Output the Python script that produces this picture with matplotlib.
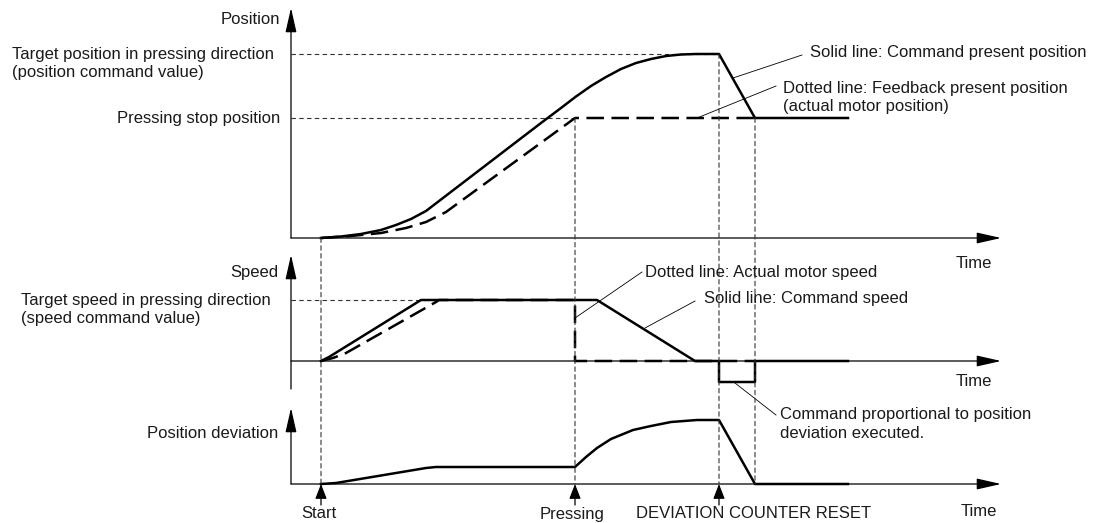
import matplotlib.pyplot as plt
from matplotlib.patches import ConnectionPatch

plt.rcParams['font.family'] = ['Liberation Sans', 'DejaVu Sans']

# Instants (time axis, arbitrary units from the axis origin)
t_start = 30
t_press = 284
t_reset = 428
t_end = 464
t_stop = 557
t_max = 710

# Position panel
pos_target = 184
pos_stop = 120
cmd_pos_t = [30, 50, 70, 90, 105, 120, 135, 250, 270, 285, 300, 315, 330, 345, 360, 375, 390, 405, 428, 464, 557]
cmd_pos_v = [0, 1.5, 4, 8, 13, 19, 27, 115, 130, 141.5, 152, 161, 169, 175, 179, 182, 183.5, 184, 184, 120, 120]
fb_pos_t = [30, 60, 90, 115, 135, 155, 284, 464]
fb_pos_v = [0, 2, 5, 10, 16, 26, 120, 120]

# Speed panel
spd_target = 61
spd_neg = -21
cmd_spd_t = [30, 38, 130, 306, 404, 428, 428, 464, 464, 557]
cmd_spd_v = [0, 4, 61, 61, 0, 0, -21, -21, 0, 0]
act_spd_t = [30, 42, 55, 138, 145, 148, 284, 284, 464]
act_spd_v = [0, 3, 8, 55, 59, 61, 61, 0, 0]

# Position deviation panel
dev_t = [30, 45, 135, 145, 284, 295, 306, 320, 342, 360, 380, 406, 428, 464, 557]
dev_v = [0, 1, 16, 17, 17, 27, 36, 45, 54, 58, 62, 64, 64, 0, 0]

W, H = 1108, 523
fig = plt.figure(figsize=(W / 100, H / 100), dpi=100)


def rect(ytop, ybot, x0=291, x1=1001):
    return [x0 / W, 1 - ybot / H, (x1 - x0) / W, (ybot - ytop) / H]


ax_pos = fig.add_axes(rect(8, 238))
ax_pos.set_ylim(0, 230)
ax_spd = fig.add_axes(rect(255, 389))
ax_spd.set_ylim(-28, 106)
ax_dev = fig.add_axes(rect(408, 484))
ax_dev.set_ylim(0, 76)
for ax in (ax_pos, ax_spd, ax_dev):
    ax.set_xlim(0, t_max)
    ax.axis('off')
    ax.patch.set_alpha(0)

thick = 1.8
thin_dash = dict(color='#333333', lw=0.8, dashes=(4, 3))
big_head = dict(arrowstyle='-|>,head_length=0.75,head_width=0.17', mutation_scale=20,
                color='black', lw=0.9, shrinkA=0, shrinkB=0)


def axis_arrow(ax, start, end):
    ax.annotate('', xy=end, xytext=start, arrowprops=big_head, annotation_clip=False)


# axes with arrows
axis_arrow(ax_pos, (0, 0), (0, 230))
axis_arrow(ax_pos, (0, 0), (t_max, 0))
axis_arrow(ax_spd, (0, -28), (0, 106))
axis_arrow(ax_spd, (0, 0), (t_max, 0))
axis_arrow(ax_dev, (0, 0), (0, 76))
axis_arrow(ax_dev, (0, 0), (t_max, 0))

# reference levels
ax_pos.plot([0, t_reset], [pos_target, pos_target], **thin_dash)
ax_pos.plot([0, t_press], [pos_stop, pos_stop], **thin_dash)
ax_spd.plot([0, 148], [spd_target, spd_target], **thin_dash)

# vertical guides across panels
guides = [(t_start, ax_pos, 0), (t_press, ax_pos, pos_stop),
          (t_reset, ax_pos, pos_target), (t_end, ax_pos, pos_stop)]
for t, ax_top, y_top in guides:
    con = ConnectionPatch(xyA=(t, y_top), coordsA=ax_top.transData,
                          xyB=(t, 0), coordsB=ax_dev.transData,
                          color='#333333', lw=0.8, linestyle=(0, (4, 3)))
    fig.add_artist(con)

# curves
ax_pos.plot(fb_pos_t, fb_pos_v, color='black', lw=thick, dashes=(7, 3), clip_on=False)
ax_pos.plot(cmd_pos_t, cmd_pos_v, color='black', lw=thick, clip_on=False)
ax_spd.plot(act_spd_t, act_spd_v, color='black', lw=thick, dashes=(7, 3), clip_on=False)
ax_spd.plot(cmd_spd_t, cmd_spd_v, color='black', lw=thick, clip_on=False)
ax_dev.plot(dev_t, dev_v, color='black', lw=thick, clip_on=False)

# event markers
small_head = dict(arrowstyle='-|>,head_length=0.9,head_width=0.35', mutation_scale=10,
                  color='black', lw=0.9, shrinkA=0, shrinkB=0)
for t in (t_start, t_press, t_reset):
    ax_dev.annotate('', xy=(t, 0), xytext=(t, -21), arrowprops=small_head,
                    annotation_clip=False)

# texts and leaders in figure pixels
ov = fig.add_axes([0, 0, 1, 1])
ov.set_xlim(0, W)
ov.set_ylim(H, 0)
ov.axis('off')
ov.patch.set_alpha(0)

fs = 12
labels = [
    ('Position', 280, 20, 'right'),
    ('Target position in pressing direction', 12, 54, 'left'),
    ('(position command value)', 12, 72, 'left'),
    ('Pressing stop position', 280, 118, 'right'),
    ('Speed', 278, 272, 'right'),
    ('Target speed in pressing direction', 21, 300, 'left'),
    ('(speed command value)', 21, 318, 'left'),
    ('Position deviation', 278, 433, 'right'),
    ('Solid line: Command present position', 810, 52, 'left'),
    ('Dotted line: Feedback present position', 783, 88, 'left'),
    ('(actual motor position)', 783, 106, 'left'),
    ('Time', 974, 264, 'center'),
    ('Dotted line: Actual motor speed', 645, 272, 'left'),
    ('Solid line: Command speed', 704, 299, 'left'),
    ('Time', 974, 382, 'center'),
    ('Command proportional to position', 780, 415, 'left'),
    ('deviation executed.', 780, 433, 'left'),
    ('Start', 319, 513, 'center'),
    ('Pressing', 572, 514, 'center'),
    ('DEVIATION COUNTER RESET', 754, 514, 'center'),
    ('Time', 979, 512, 'center'),
]
for s, x, y, ha in labels:
    ov.text(x, y, s, ha=ha, va='center', fontsize=fs, color='#1a1a1a')

leaders = [((733, 78), (802, 55)), ((697, 118), (776, 86)),
           ((575, 318), (642, 272)), ((645, 328), (695, 301)),
           ((735, 383), (776, 415))]
for (x0, y0), (x1, y1) in leaders:
    ov.plot([x0, x1], [y0, y1], color='black', lw=0.6)

plt.savefig('out.png', dpi=100)
